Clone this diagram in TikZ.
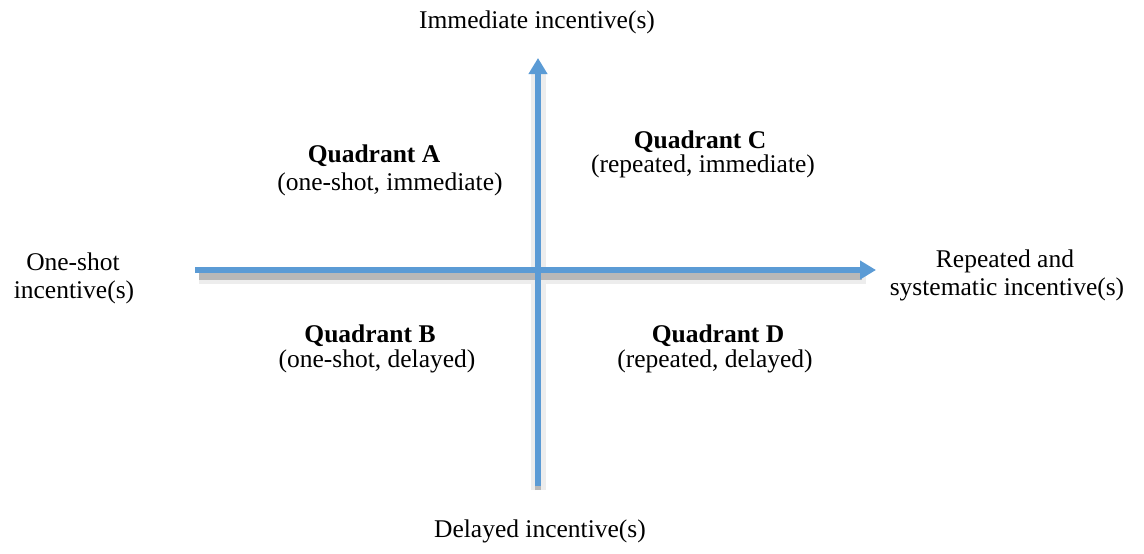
\documentclass[tikz,border=0pt]{standalone}
\usepackage{fontspec}
\setmainfont{Liberation Serif}
\usetikzlibrary{arrows.meta}
\definecolor{axisblue}{HTML}{5B9BD5}
\tikzset{
  axis/.style={draw=axisblue, line width=5.5pt, -{Triangle[length=16pt,width=18pt]}},
  axisshadow/.style={draw=black!28, line width=7pt},
  axisglow/.style={draw=black!7, line width=15pt},
  lbl/.style={font=\fontsize{25.5}{28}\selectfont, inner sep=0pt, anchor=base},
  qtitle/.style={font=\fontsize{25.5}{28}\selectfont\bfseries, inner sep=0pt, anchor=base}
}
\begin{document}
\begin{tikzpicture}[x=1pt,y=-1pt]
\useasboundingbox (0,0) rectangle (1144,554);
\coordinate (xl) at (195,270);
\coordinate (xr) at (876,270);
\coordinate (yb) at (538,486);
\coordinate (yt) at (538,58);
% shadows
\draw[axisglow] ([xshift=4,yshift=-6]xl) -- ([xshift=-10,yshift=-6]xr);
\draw[axisglow] ([yshift=-4]yb) -- ([yshift=-16]yt);
\draw[axisshadow] ([xshift=4,yshift=-6]xl) -- ([xshift=-14,yshift=-6]xr);
\draw[axisshadow, line width=5.5pt] ([yshift=-4]yb) -- ([yshift=-16]yt);
% axes
\draw[axis] (xl) -- (xr);
\draw[axis] (yb) -- (yt);
% axis labels
\node[lbl] (top) at (537,28) {Immediate incentive(s)};
\node[lbl] (bot) at (540,537) {Delayed incentive(s)};
\node[lbl] (l1) at (73,270) {One-shot};
\node[lbl] (l2) at (74,298) {incentive(s)};
\node[lbl] (r1) at (1005,267) {Repeated and};
\node[lbl] (r2) at (1007,295) {systematic incentive(s)};
% quadrants
\node[qtitle] (qa) at (374,162) {Quadrant A};
\node[lbl] (qa2) at (390,190) {(one-shot, immediate)};
\node[qtitle] (qc) at (700,148) {Quadrant C};
\node[lbl] (qc2) at (703,172) {(repeated, immediate)};
\node[qtitle] (qb) at (370,342) {Quadrant B};
\node[lbl] (qb2) at (377,367) {(one-shot, delayed)};
\node[qtitle] (qd) at (718,342) {Quadrant D};
\node[lbl] (qd2) at (715,367) {(repeated, delayed)};
\end{tikzpicture}
\end{document}
